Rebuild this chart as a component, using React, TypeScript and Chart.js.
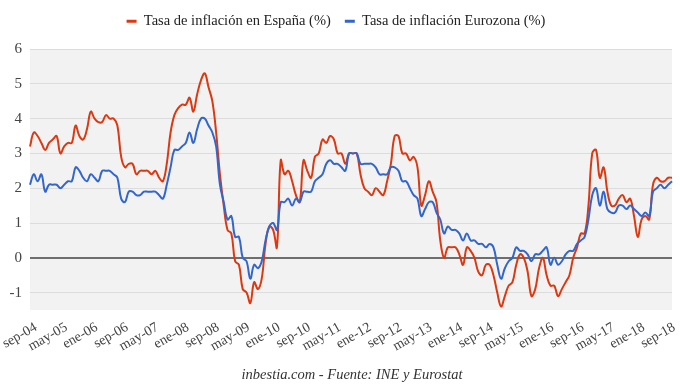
import React, { useEffect, useRef } from 'react';
import { Chart, registerables } from 'chart.js';

Chart.register(...registerables);

// ---- Data (monthly, Sep 2004 .. Oct 2018) ----
const MONTH_NAMES = ['ene', 'feb', 'mar', 'abr', 'may', 'jun', 'jul', 'ago', 'sep', 'oct', 'nov', 'dic'];
const START_YEAR = 2004;
const START_MONTH = 8; // sep

const ESPANA = [
  3.2, 3.6, 3.5, 3.3,
  3.1, 3.3, 3.4, 3.5, 3.0, 3.2, 3.3, 3.3, 3.8, 3.5, 3.4, 3.7,
  4.2, 4.0, 3.9, 3.9, 4.1, 4.0, 4.0, 3.8, 2.9, 2.6, 2.7, 2.7,
  2.4, 2.5, 2.5, 2.5, 2.4, 2.5, 2.3, 2.2, 2.7, 3.6, 4.1, 4.3,
  4.4, 4.4, 4.6, 4.2, 4.7, 5.1, 5.3, 4.9, 4.5, 3.6, 2.4, 1.5,
  0.8, 0.7, -0.1, -0.2, -0.9, -1.0, -1.3, -0.7, -0.9, -0.6, 0.4, 0.9,
  0.8, 0.3, 2.8, 2.4, 2.5, 2.2, 1.8, 1.6, 2.8, 2.5, 2.3, 2.9,
  3.0, 3.4, 3.3, 3.5, 3.4, 3.0, 3.0, 2.7, 3.0, 3.0, 3.0, 2.4,
  2.0, 1.9, 1.8, 2.0, 1.9, 1.8, 2.2, 2.7, 3.5, 3.5, 3.0, 3.0,
  2.8, 2.9, 2.6, 1.5, 1.8, 2.2, 1.9, 1.6, 0.5, 0.0, 0.3, 0.3,
  0.3, 0.1, -0.2, 0.3, 0.2, 0.0, -0.4, -0.5, -0.2, -0.2, -0.5, -1.0,
  -1.4, -1.1, -0.8, -0.7, -0.2, 0.1, 0.0, -0.4, -1.1, -0.9, -0.3, 0.0,
  -0.5, -0.8, -0.8, -1.1, -0.9, -0.7, -0.5, 0.0, 0.3, 0.7, 0.7, 1.5,
  3.0, 3.1, 2.3, 2.6, 1.9, 1.5, 1.5, 1.7, 1.8, 1.6, 1.7, 1.2,
  0.6, 1.1, 1.2, 1.1, 2.1, 2.3, 2.2, 2.2, 2.3, 2.3,
];

const EUROZONA = [
  2.1, 2.4, 2.2, 2.4,
  1.9, 2.1, 2.1, 2.1, 2.0, 2.1, 2.2, 2.2, 2.6, 2.5, 2.3, 2.2,
  2.4, 2.3, 2.2, 2.5, 2.5, 2.5, 2.4, 2.3, 1.7, 1.6, 1.9, 1.9,
  1.8, 1.8, 1.9, 1.9, 1.9, 1.9, 1.8, 1.7, 2.1, 2.6, 3.1, 3.1,
  3.2, 3.3, 3.6, 3.3, 3.7, 4.0, 4.0, 3.8, 3.6, 3.2, 2.1, 1.6,
  1.1, 1.2, 0.6, 0.6, 0.0, -0.1, -0.6, -0.2, -0.3, -0.1, 0.5, 0.9,
  1.0, 0.8, 1.6, 1.6, 1.7, 1.5, 1.7, 1.6, 1.9, 1.9, 1.9, 2.2,
  2.3, 2.4, 2.7, 2.8, 2.7, 2.7, 2.6, 2.5, 3.0, 3.0, 3.0, 2.7,
  2.7, 2.7, 2.7, 2.6, 2.4, 2.4, 2.4, 2.6, 2.6, 2.5, 2.2, 2.2,
  2.0, 1.8, 1.7, 1.2, 1.4, 1.6, 1.6, 1.3, 1.1, 0.7, 0.9, 0.8,
  0.8, 0.7, 0.5, 0.7, 0.5, 0.5, 0.4, 0.4, 0.3, 0.4, 0.3, -0.2,
  -0.6, -0.3, -0.1, 0.0, 0.3, 0.2, 0.2, 0.1, -0.1, 0.1, 0.1, 0.2,
  0.3, -0.2, 0.0, -0.2, -0.1, 0.1, 0.2, 0.2, 0.4, 0.5, 0.6, 1.1,
  1.8, 2.0, 1.5, 1.9, 1.4, 1.3, 1.3, 1.5, 1.5, 1.4, 1.5, 1.4,
  1.3, 1.2, 1.3, 1.2, 1.9, 2.0, 2.1, 2.0, 2.1, 2.2,
];

const CATEGORIES = ESPANA.map((_, i) => {
  const m = (START_MONTH + i) % 12;
  const y = START_YEAR + Math.floor((START_MONTH + i) / 12);
  return `${MONTH_NAMES[m]}-${String(y % 100).padStart(2, '0')}`;
});

const TICK_LABELS = [
  'sep-04', 'may-05', 'ene-06', 'sep-06', 'may-07', 'ene-08', 'sep-08', 'may-09',
  'ene-10', 'sep-10', 'may-11', 'ene-12', 'sep-12', 'may-13', 'ene-14', 'sep-14',
  'may-15', 'ene-16', 'sep-16', 'may-17', 'ene-18', 'sep-18',
];

const Y_MIN = -1.5;
const Y_MAX = 6;

const SERIES_NAMES = ['Tasa de inflación en España (%)', 'Tasa de inflación Eurozona (%)'];
const FOOTER = 'inbestia.com - Fuente: INE y Eurostat';

const FONT = "'Liberation Serif', 'Times New Roman', serif";

const plotBg = {
  id: 'plotBg',
  beforeDraw(chart: any) {
    const { ctx, chartArea } = chart;
    if (!chartArea) return;
    ctx.save();
    ctx.fillStyle = '#f2f2f2';
    ctx.fillRect(chartArea.left, chartArea.top, chartArea.right - chartArea.left, chartArea.bottom - chartArea.top);
    ctx.restore();
  },
};

const footerText = {
  id: 'footerText',
  afterDraw(chart: any) {
    const { ctx, chartArea } = chart;
    if (!chartArea) return;
    ctx.save();
    ctx.font = `italic 14.5px ${FONT}`;
    ctx.fillStyle = '#333';
    ctx.textAlign = 'center';
    ctx.textBaseline = 'middle';
    ctx.fillText(FOOTER, (chartArea.left + chartArea.right) / 2 + 1, chart.height - 11);
    ctx.restore();
  },
};

const legendSpacer = {
  id: 'legendSpacer',
  beforeInit(chart: any) {
    const lg = chart.legend;
    if (!lg) return;
    const orig = lg.fit;
    lg.fit = function () {
      orig.call(this);
      this.height += 10.5;
    };
  },
};

export default function App() {
  const ref = useRef<HTMLCanvasElement | null>(null);

  useEffect(() => {
    document.body.style.margin = '0';
    if (!ref.current) return;
    const chart = new Chart(ref.current, {
      type: 'line',
      data: {
        labels: CATEGORIES,
        datasets: [
          {
            label: SERIES_NAMES[0],
            data: ESPANA,
            borderColor: '#dc3912',
            backgroundColor: '#dc3912',
            borderWidth: 2,
            pointRadius: 0,
            tension: 0.4,
            order: 2,
          },
          {
            label: SERIES_NAMES[1],
            data: EUROZONA,
            borderColor: '#3366cc',
            backgroundColor: '#3366cc',
            borderWidth: 2,
            pointRadius: 0,
            tension: 0.4,
            order: 1,
          },
        ],
      },
      options: {
        responsive: false,
        animation: false,
        layout: { padding: { left: 0, right: 8, top: 0, bottom: 20 } },
        plugins: {
          legend: {
            position: 'top',
            labels: {
              boxWidth: 10,
              boxHeight: 3,
              padding: 14,
              color: '#222',
              font: { family: FONT, size: 14.5 },
              generateLabels: (c: any) =>
                c.data.datasets.map((ds: any, i: number) => ({
                  text: ds.label,
                  fillStyle: ds.borderColor,
                  strokeStyle: ds.borderColor,
                  lineWidth: 0,
                  hidden: false,
                  datasetIndex: i,
                  fontColor: '#222',
                })),
            },
          },
          title: { display: false },
          tooltip: { enabled: false },
        },
        scales: {
          x: {
            grid: { display: false, drawTicks: false },
            border: { display: false },
            ticks: {
              autoSkip: false,
              minRotation: 30,
              maxRotation: 30,
              padding: 9,
              labelOffset: 6,
              color: '#444',
              font: { family: FONT, size: 14 },
              callback: (_v: any, i: number) =>
                TICK_LABELS.includes(CATEGORIES[i]) ? CATEGORIES[i] : null,
            },
            afterFit: (scale: any) => {
              scale.height = 56;
              scale.paddingLeft = 0;
              scale.paddingRight = 0;
            },
          },
          y: {
            min: Y_MIN,
            max: Y_MAX,
            grid: {
              drawTicks: false,
              color: (ctx: any) => (ctx.tick && ctx.tick.value === 0 ? '#6e6e6e' : '#dcdcdc'),
              lineWidth: (ctx: any) => (ctx.tick && ctx.tick.value === 0 ? 2 : 1),
            },
            border: { display: false },
            ticks: {
              stepSize: 1,
              includeBounds: false,
              padding: 8,
              color: '#444',
              font: { family: FONT, size: 15 },
            },
            afterFit: (scale: any) => {
              scale.width = 30;
            },
          },
        },
      },
      plugins: [plotBg, legendSpacer, footerText],
    });
    return () => chart.destroy();
  }, []);

  return (
    <div style={{ width: 680, height: 386 }}>
      <canvas ref={ref} width={680} height={386} style={{ width: 680, height: 386, display: 'block' }} />
    </div>
  );
}
